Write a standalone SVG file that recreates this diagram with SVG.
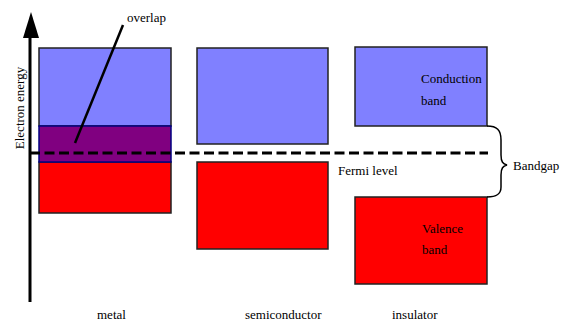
<svg xmlns="http://www.w3.org/2000/svg" width="561" height="324" viewBox="0 0 561 324">
<style>
text{font-family:"Liberation Serif","Tinos","Times New Roman","DejaVu Serif",serif;font-size:13px;fill:#000}
.cb{fill:#8080ff;stroke:#222;stroke-width:1.5}
.vb{fill:#ff0000;stroke:#222;stroke-width:1.5}
.ov{fill:#800080;stroke:#000080;stroke-width:1.5}
</style>
<rect width="561" height="324" fill="#fff"/>
<g id="axis">
<line x1="30" y1="302" x2="30" y2="36" stroke="#000" stroke-width="3"/>
<polygon points="31,12 23,38 39,38" fill="#000"/>
<text transform="translate(24,108) rotate(-90)" text-anchor="middle" font-family="Liberation Serif, serif">Electron energy</text>
</g>
<g id="metal">
<rect class="cb" x="39" y="48" width="132" height="78"/>
<rect class="vb" x="39" y="162" width="132" height="51"/>
<rect class="ov" x="39" y="126" width="132" height="36"/>
<text x="97" y="319">metal</text>
</g>
<g id="semiconductor">
<rect class="cb" x="197" y="48" width="131" height="96"/>
<rect class="vb" x="197" y="162" width="131" height="87"/>
<text x="245" y="319">semiconductor</text>
</g>
<g id="insulator">
<rect class="cb" x="355" y="47" width="132" height="79"/>
<rect class="vb" x="355" y="197" width="132" height="87"/>
<text x="421" y="83">Conduction</text>
<text x="421" y="105">band</text>
<text x="422" y="233">Valence</text>
<text x="422" y="254">band</text>
<text x="392" y="319">insulator</text>
</g>
<g id="connectors">
<line x1="30" y1="153" x2="488" y2="153" stroke="#000" stroke-width="3" stroke-dasharray="10,4.5"/>
<line x1="123" y1="25" x2="75" y2="143" stroke="#000" stroke-width="2.5"/>
<path d="M487,126 C497,126 501,130 501,140 L501,155 C501,162 503,164 507,165 C503,166 501,168 501,175 L501,187 C501,194 497,197 487,197" fill="none" stroke="#000" stroke-width="1.5"/>
</g>
<g id="labels">
<text x="127" y="22">overlap</text>
<text x="338" y="175">Fermi level</text>
<text x="513" y="170">Bandgap</text>
</g>
</svg>
